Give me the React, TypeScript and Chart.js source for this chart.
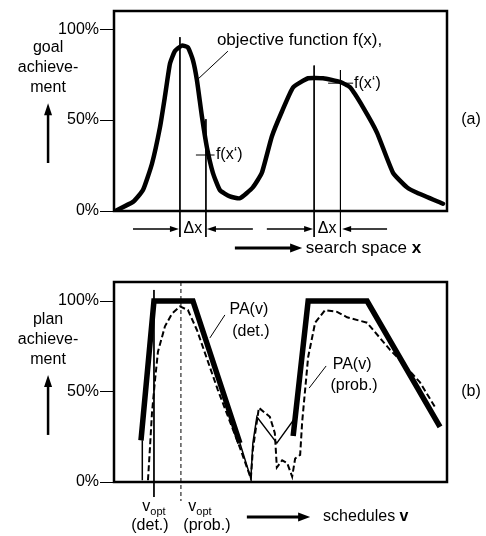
import React, { useEffect, useRef } from "react";
import { Chart, registerables } from "chart.js";

Chart.register(...registerables);

const FONT = "'Liberation Sans', Arial, Helvetica, sans-serif";

// ---------- Panel (a): objective function over the search space ----------
const searchX = [0.3, 5.7, 8.7, 11.4, 13.8, 15.3, 16.8, 18.3, 20.4, 22.2, 23.7, 24.9, 26.4, 27.9, 29.7, 31.8, 34.8, 37.8, 41.7, 44.4, 47.4, 50.5, 53.8, 58.3, 62.8, 67.9, 70.9, 74.8, 79.0, 83.8, 88.0, 91.0, 98.8];
const goalAchievement = [0, 5, 11.5, 26, 46, 63, 81, 88, 91, 90, 83, 72, 52, 35, 21, 11.5, 8, 7, 13, 21, 41, 55, 68, 73, 73, 71, 68, 57, 43, 21, 13, 10, 4];
const optimumX = [19.8, 60.1];
const optimumTop = [95.6, 80];
const neighbourX = [27.6, 68.0];
const neighbourTop = [50.5, 77.5];
const neighbourValue = [30.8, 70.3];
const markerBottomA = -14.3;

// ---------- Panel (b): plan achievement over schedules ----------
const detThickX = [8.1, 12.0, 23.7, 37.8, null, 53.8, 58.3, 76.0, 97.9];
const detThickY = [23, 100, 100, 21.5, null, 25.4, 100, 100, 30.4];
const detThinX = [8.5, 8.5, null, 37.8, 41.1, 41.7, 42.9, 48.9, 54.2];
const detThinY = [1, 23, null, 21.5, 2, 21.5, 36, 21.5, 35];
const probX = [10.2, 10.8, 11.4, 12.3, 13.2, 15.3, 17.4, 19.8, 22.2, 24.9, 31.2, 37.8, 41.1, 41.7, 43.5, 46.8, 48.3, 48.9, 50.5, 52.0, 53.5, 54.4, 55.9, 56.5, 57.4, 58.3, 60.4, 63.4, 67.0, 70.0, 76.0, 82.9, 85.3, 91.9, 96.4];
const probY = [1, 19, 38, 56, 72, 86, 93, 97, 95, 84, 50.8, 19, 2, 18, 41, 36, 27, 8, 12, 10.5, 3, 13, 15, 33, 51, 69, 88, 95, 94, 91, 88, 73, 68.5, 55, 41.4];
const vOptDet = 12.0;
const vOptProb = 20.1;

const yTicks = [0, 50, 100];

type Part = { t: string; bold?: boolean; size?: number; dy?: number };
type TextSpec = { x: number; y: number; align: "left" | "center"; parts: Part[] };
type LineSpec = { x1: number; y1: number; x2: number; y2: number; w: number };
type ArrowSpec = { x1: number; y1: number; x2: number; y2: number; w: number; hl: number; hw: number };
type Overlay = { texts: TextSpec[]; lines: LineSpec[]; arrows: ArrowSpec[] };

const T = (x: number, y: number, align: "left" | "center", ...parts: Part[]): TextSpec => ({ x, y, align, parts });

const overlayA: Overlay = {
  texts: [
    T(30.9, 94, "left", { t: "objective function f(x),", size: 17 }),
    T(30.6, neighbourValue[0], "left", { t: "f(x\u2018)" }),
    T(72.1, neighbourValue[1], "left", { t: "f(x\u2018)" }),
    T(23.7, -9.9, "center", { t: "\u0394x" }),
    T(64.0, -9.9, "center", { t: "\u0394x" }),
    T(57.6, -20.3, "left", { t: "search space ", size: 17 }, { t: "x", bold: true, size: 17 }),
    T(-19.8, 90.1, "center", { t: "goal" }),
    T(-19.8, 78.6, "center", { t: "achieve-" }),
    T(-19.8, 67.6, "center", { t: "ment" }),
    T(107.2, 50, "center", { t: "(a)" }),
  ],
  lines: [
    { x1: 34.2, y1: 87.9, x2: 24.9, y2: 72, w: 1 },
    { x1: 24.6, y1: neighbourValue[0], x2: 30.2, y2: neighbourValue[0], w: 1 },
    { x1: 64.3, y1: neighbourValue[1], x2: 71.8, y2: neighbourValue[1], w: 1 },
  ],
  arrows: [
    { x1: 5.7, y1: -9.9, x2: 19.5, y2: -9.9, w: 1.3, hl: 9, hw: 6 },
    { x1: 41.7, y1: -9.9, x2: 27.9, y2: -9.9, w: 1.3, hl: 9, hw: 6 },
    { x1: 45.9, y1: -9.9, x2: 59.8, y2: -9.9, w: 1.3, hl: 9, hw: 6 },
    { x1: 82.0, y1: -9.9, x2: 68.5, y2: -9.9, w: 1.3, hl: 9, hw: 6 },
    { x1: 36.3, y1: -20.3, x2: 56.5, y2: -20.3, w: 3, hl: 12, hw: 9 },
    { x1: -19.8, y1: 26.4, x2: -19.8, y2: 59.3, w: 2.5, hl: 12, hw: 8 },
  ],
};

const overlayB: Overlay = {
  texts: [
    T(40.5, 95, "center", { t: "PA(v)" }),
    T(41.1, 82.9, "center", { t: "(det.)" }),
    T(71.5, 64.6, "center", { t: "PA(v)" }),
    T(72.1, 53, "center", { t: "(prob.)" }),
    T(12.0, -13.8, "center", { t: "v" }, { t: "opt", size: 11, dy: 5 }),
    T(10.8, -24.3, "center", { t: "(det.)" }),
    T(25.8, -13.8, "center", { t: "v" }, { t: "opt", size: 11, dy: 5 }),
    T(27.9, -24.3, "center", { t: "(prob.)" }),
    T(62.8, -19.3, "left", { t: "schedules " }, { t: "v", bold: true }),
    T(-19.8, 89.5, "center", { t: "plan" }),
    T(-19.8, 78.5, "center", { t: "achieve-" }),
    T(-19.8, 67.4, "center", { t: "ment" }),
    T(107.2, 49.7, "center", { t: "(b)" }),
  ],
  lines: [
    { x1: 33.3, y1: 92.3, x2: 28.8, y2: 79.6, w: 1 },
    { x1: 63.7, y1: 64.1, x2: 58.6, y2: 51.9, w: 1 },
  ],
  arrows: [
    { x1: 39.9, y1: -19.3, x2: 58.9, y2: -19.3, w: 3, hl: 12, hw: 9 },
    { x1: -19.8, y1: 26, x2: -19.8, y2: 59.1, w: 2.5, hl: 12, hw: 8 },
  ],
};

function overlayPlugin(spec: Overlay) {
  return {
    id: "overlay",
    afterDatasetsDraw(chart: any) {
      const { ctx, chartArea: ca, scales } = chart;
      const px = (v: number) => scales.x.getPixelForValue(v);
      const py = (v: number) => scales.y.getPixelForValue(v);
      ctx.save();
      ctx.strokeStyle = "#000";
      ctx.fillStyle = "#000";
      ctx.lineWidth = 2.5;
      ctx.strokeRect(ca.left, ca.top, ca.right - ca.left, ca.bottom - ca.top);
      spec.lines.forEach((l) => {
        ctx.lineWidth = l.w;
        ctx.beginPath();
        ctx.moveTo(px(l.x1), py(l.y1));
        ctx.lineTo(px(l.x2), py(l.y2));
        ctx.stroke();
      });
      spec.arrows.forEach((a) => {
        const x1 = px(a.x1), y1 = py(a.y1), x2 = px(a.x2), y2 = py(a.y2);
        const ang = Math.atan2(y2 - y1, x2 - x1);
        const bx = x2 - Math.cos(ang) * a.hl, by = y2 - Math.sin(ang) * a.hl;
        ctx.lineWidth = a.w;
        ctx.beginPath();
        ctx.moveTo(x1, y1);
        ctx.lineTo(bx + Math.cos(ang), by + Math.sin(ang));
        ctx.stroke();
        const nx = -Math.sin(ang) * a.hw / 2, ny = Math.cos(ang) * a.hw / 2;
        ctx.beginPath();
        ctx.moveTo(x2, y2);
        ctx.lineTo(bx + nx, by + ny);
        ctx.lineTo(bx - nx, by - ny);
        ctx.closePath();
        ctx.fill();
      });
      ctx.textBaseline = "middle";
      ctx.textAlign = "left";
      spec.texts.forEach((t) => {
        const fontOf = (p: Part) => `${p.bold ? "bold " : ""}${p.size || 16}px ${FONT}`;
        let total = 0;
        t.parts.forEach((p) => { ctx.font = fontOf(p); total += ctx.measureText(p.t).width; });
        let x = px(t.x) - (t.align === "center" ? total / 2 : 0);
        const y = py(t.y);
        t.parts.forEach((p) => {
          ctx.font = fontOf(p);
          ctx.fillText(p.t, x, y + (p.dy || 0));
          x += ctx.measureText(p.t).width;
        });
      });
      ctx.restore();
    },
  };
}

const pts = (xs: (number | null)[], ys: (number | null)[]) =>
  xs.map((x, i) => ({ x: x === null ? NaN : x, y: ys[i] }));

function baseOptions(yMax: number, padding: any): any {
  return {
    responsive: false,
    animation: false,
    devicePixelRatio: 1,
    events: [],
    layout: { padding },
    plugins: { legend: { display: false }, tooltip: { enabled: false } },
    scales: {
      x: { type: "linear", min: 0, max: 100, display: false },
      y: {
        type: "linear",
        min: 0,
        max: yMax,
        afterFit: (s: any) => { s.width = 114; },
        afterBuildTicks: (s: any) => { s.ticks = yTicks.map((v) => ({ value: v })); },
        ticks: {
          callback: (v: any) => `${v}%`,
          color: "#000",
          padding: 1,
          font: { size: 16, family: FONT },
        },
        grid: { drawOnChartArea: false, drawTicks: true, tickLength: 14, color: "#000", lineWidth: 1 },
        border: { display: false },
      },
    },
  };
}

export default function App() {
  const refA = useRef<HTMLCanvasElement>(null);
  const refB = useRef<HTMLCanvasElement>(null);

  useEffect(() => {
    const markerLine = (x: number, top: number, bottom: number, dash: number[] = []) => ({
      data: [{ x, y: top }, { x, y: bottom }],
      borderColor: "#000",
      borderWidth: 1,
      borderDash: dash,
      pointRadius: 0,
      clip: false,
    });

    const chartA = new Chart(refA.current!, {
      type: "line",
      data: {
        datasets: [
          {
            data: pts(searchX, goalAchievement),
            borderColor: "#000",
            borderWidth: 4.5,
            pointRadius: 0,
            tension: 0.15,
            borderJoinStyle: "round",
            borderCapStyle: "round",
          } as any,
          markerLine(optimumX[0], optimumTop[0], markerBottomA),
          markerLine(neighbourX[0], neighbourTop[0], markerBottomA),
          markerLine(optimumX[1], optimumTop[1], markerBottomA),
          markerLine(neighbourX[1], neighbourTop[1], markerBottomA),
        ],
      },
      options: baseOptions(110, { left: 0, right: 39, top: 11, bottom: 59 }),
      plugins: [overlayPlugin(overlayA)],
    });

    const chartB = new Chart(refB.current!, {
      type: "line",
      data: {
        datasets: [
          {
            data: pts(probX, probY),
            borderColor: "#000",
            borderWidth: 2,
            borderDash: [6, 3],
            pointRadius: 0,
            tension: 0,
            spanGaps: false,
          } as any,
          {
            data: pts(detThickX, detThickY),
            borderColor: "#000",
            borderWidth: 5.5,
            pointRadius: 0,
            tension: 0,
            spanGaps: false,
            borderJoinStyle: "miter",
            borderCapStyle: "butt",
          } as any,
          {
            data: pts(detThinX, detThinY),
            borderColor: "#000",
            borderWidth: 1.5,
            pointRadius: 0,
            tension: 0,
            spanGaps: false,
          } as any,
          markerLine(vOptDet, 106.1, -8.3),
          markerLine(vOptProb, 110.5, -10.5, [4, 3]),
        ],
      },
      options: baseOptions(110.5, { left: 0, right: 39, top: 12, bottom: 54 }),
      plugins: [overlayPlugin(overlayB)],
    });

    return () => {
      chartA.destroy();
      chartB.destroy();
    };
  }, []);

  return (
    <div style={{ position: "fixed", left: 0, top: 0, width: 486, height: 536, background: "#fff" }}>
      <canvas ref={refA} width={486} height={270} style={{ position: "absolute", left: 0, top: 0 }} />
      <canvas ref={refB} width={486} height={266} style={{ position: "absolute", left: 0, top: 270 }} />
    </div>
  );
}
